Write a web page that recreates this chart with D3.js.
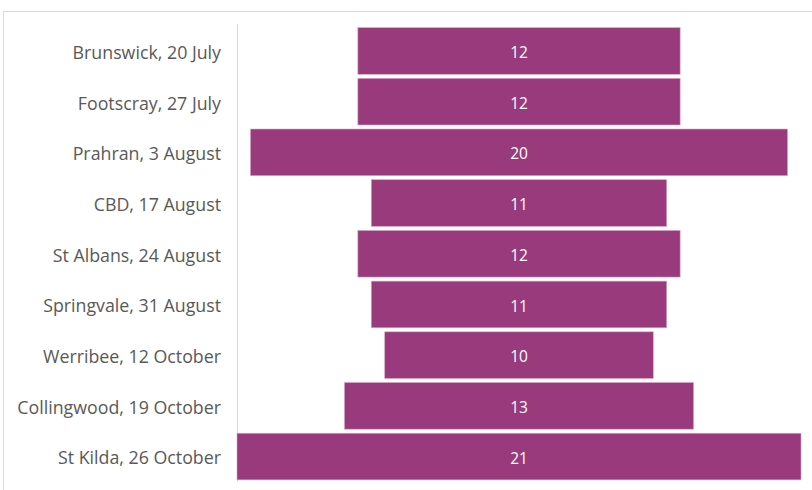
<!DOCTYPE html>
<html>
<head>
<meta charset="utf-8">
<script src="https://cdn.jsdelivr.net/npm/d3@7"></script>
<style>
  body { margin: 0; background: #fff; }
  svg text { font-family: "Open Sans", "Liberation Sans", sans-serif; }
</style>
</head>
<body>
<svg width="812" height="490"></svg>
<script>
/* datos */
const events = ["Brunswick, 20 July", "Footscray, 27 July", "Prahran, 3 August",
  "CBD, 17 August", "St Albans, 24 August", "Springvale, 31 August",
  "Werribee, 12 October", "Collingwood, 19 October", "St Kilda, 26 October"]
const counts = [12, 12, 20, 11, 12, 11, 10, 13, 21]

const svg = d3.select('svg')

/* borde del área del gráfico */
svg.append('rect')
  .attr('x', 3.5).attr('y', 11.5)
  .attr('width', 820).attr('height', 500)
  .attr('fill', 'none').attr('stroke', '#d9d9d9')

/* escalas */
const y = d3.scaleBand().domain(events).range([25.6, 481.9]).paddingInner(0.08).paddingOuter(0.04)
const x = d3.scaleLinear().domain([-10.5, 10.5]).range([237, 801])

/* eje vertical */
svg.append('line')
  .attr('x1', 237.5).attr('x2', 237.5)
  .attr('y1', 24).attr('y2', 482)
  .attr('stroke', '#d9d9d9')

/* etiquetas */
svg.selectAll('.cat')
  .data(events)
  .join('text')
  .attr('class', 'cat')
  .attr('x', 221)
  .attr('y', d => y(d) + y.bandwidth() / 2 + 1.5)
  .attr('dy', '0.36em')
  .attr('text-anchor', 'end')
  .attr('font-size', 17.8)
  .attr('fill', '#595959')
  .text(d => d)

/* barras centradas */
svg.selectAll('.bar')
  .data(counts)
  .join('rect')
  .attr('class', 'bar')
  .attr('x', d => x(-d / 2))
  .attr('y', (d, i) => y(events[i]))
  .attr('width', d => x(d / 2) - x(-d / 2))
  .attr('height', y.bandwidth())
  .attr('fill', '#993A7C')
  .attr('stroke', '#d7a6c8')
  .attr('stroke-width', 0.6)

/* valores */
svg.selectAll('.val')
  .data(counts)
  .join('text')
  .attr('class', 'val')
  .attr('x', x(0))
  .attr('y', (d, i) => y(events[i]) + y.bandwidth() / 2 + 1.5)
  .attr('dy', '0.36em')
  .attr('text-anchor', 'middle')
  .attr('font-size', 15.5)
  .attr('fill', '#fff')
  .text(d => d)
</script>
</body>
</html>
